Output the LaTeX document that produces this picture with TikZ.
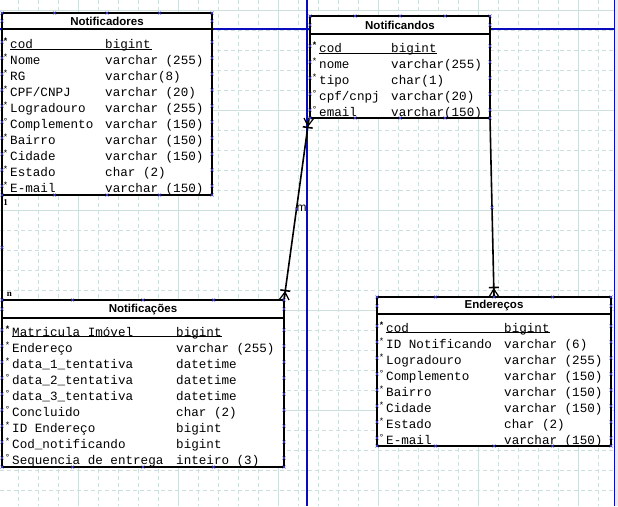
\documentclass[tikz,border=0pt]{standalone}
\usepackage{fontspec}
\setmainfont{Liberation Sans}
\newfontfamily\monof{Liberation Mono}
\newfontfamily\seriff{Liberation Serif}
\usetikzlibrary{calc}
\definecolor{gridc}{RGB}{206,224,222}
\definecolor{pageb}{RGB}{10,10,190}
\definecolor{xmc}{RGB}{70,70,225}
\newcommand\keyB{\bfseries*}
\newcommand\keyS{*}
\newcommand\keyO{°}
\newcommand\tblrows[5]{%
  \foreach \k/\nm/\ty [count=\i from 0] in {#4} {
    \pgfmathsetmacro\yy{#3+16*\i}
    \node[fld] (#5-n\i) at (#1,\yy+4.5) {\nm};
    \node[fld] (#5-t\i) at (#2,\yy+4.5) {\ty};
    \node[keym] (#5-k\i) at (#1-4.5,\yy-2.5) {\k};
  }}
\newcommand\tblmarks[5]{%
  \foreach \f in {0,1,2,3,4} {
    \pgfmathsetmacro\xx{#1+(#2-#1)*\f/4}
    \pic at (\xx,#3) {xm};
    \pic at (\xx,#4) {xm};
  }
  \foreach \yy in {#5} {
    \pic at (#1,\yy) {xm};
    \pic at (#2,\yy) {xm};
  }}
\newcommand\crowft[2]{%
  \draw[conn] ($(#1)!9.5pt!(#2)$) coordinate (cfb)
     ($(cfb)!5pt!90:(#2)$) -- ($(cfb)!5pt!-90:(#2)$);
  \draw[conn, line width=1.2pt] ($(#1)!8pt!(#2)$) coordinate (cfa)
     ($(#1)+(-5,0)$) -- (cfa) -- (#1) (cfa) -- ($(#1)+(5,0)$);
}
\begin{document}
\begin{tikzpicture}[x=1pt,y=-1pt,
  tbl/.style={draw=black, line width=1.6pt, fill=white, inner sep=0pt, outer sep=0pt, anchor=north west},
  ttl/.style={font=\fontsize{11.5}{12}\selectfont\bfseries, inner sep=0pt},
  fld/.style={font=\monof\fontsize{12.6}{14}\selectfont, inner sep=0pt, anchor=base west},
  keym/.style={font=\monof\fontsize{9}{9}\selectfont, inner sep=0pt},
  conn/.style={line width=1.6pt, black},
  lbl/.style={font=\seriff\bfseries\fontsize{9}{9}\selectfont, inner sep=0pt},
  gridd/.style={gridc, line width=0.8pt, dash pattern=on 4pt off 3pt},
  grids/.style={gridc, line width=0.8pt},
  xm/.pic={\draw[xmc, line width=0.5pt] (-1.5,-1.5)--(1.5,1.5) (-1.5,1.5)--(1.5,-1.5);}
]
\useasboundingbox (0,0) rectangle (618,506);
\fill[white] (0,0) rectangle (618,506);
% grid
\foreach \x in {18,38,...,598} \draw[gridd] (\x,0) -- (\x,506);
\foreach \y in {10,30,...,490} \draw[gridd] (0,\y) -- (614,\y);
\foreach \x in {78,178,...,578} \draw[grids] (\x,0) -- (\x,506);
\foreach \y in {10,110,...,410} \draw[grids] (0,\y) -- (614,\y);
\fill[black!7] (615,0) rectangle (618,506);
% page breaks
\draw[pageb, line width=1.3pt] (0,29) -- (614.5,29);
\draw[pageb, line width=1.3pt] (307,0) -- (307,506);
\draw[pageb, line width=1.3pt] (614.5,0) -- (614.5,506);

% tables
\node[tbl, minimum width=210pt, minimum height=182pt] (notificadores) at (2,13) {};
\node[tbl, minimum width=180pt, minimum height=102pt] (notificandos) at (310,16) {};
\node[tbl, minimum width=282pt, minimum height=167pt] (notificacoes) at (2,300) {};
\node[tbl, minimum width=234pt, minimum height=149pt] (enderecos) at (377,297) {};

\draw[line width=1.6pt] (2,29) -- (212,29);
\draw[line width=1.6pt] (310,34) -- (490,34);
\draw[line width=1.6pt] (2,318) -- (284,318);
\draw[line width=1.6pt] (377,314) -- (611,314);

\node[ttl] (t-a) at (107,21) {Notificadores};
\node[ttl] (t-b) at (400,25.5) {Notificandos};
\node[ttl] (t-c) at (143,309.5) {Notificações};
\node[ttl] (t-d) at (494,306) {Endereços};

\tblrows{10}{105}{44}{\keyB/cod/bigint, \keyS/Nome/varchar (255), \keyS/RG/varchar(8),
  \keyS/CPF\slash CNPJ/varchar (20), \keyS/Logradouro/varchar (255), \keyO/Complemento/varchar (150),
  \keyS/Bairro/varchar (150), \keyS/Cidade/varchar (150), \keyS/Estado/char (2), \keyS/E-mail/varchar (150)}{a}
\tblrows{319}{391}{48}{\keyB/cod/bigint, \keyS/nome/varchar(255), \keyS/tipo/char(1),
  \keyO/cpf\slash cnpj/varchar(20), \keyO/email/varchar(150)}{b}
\tblrows{12}{176}{332}{\keyB/Matricula Imóvel/bigint, \keyS/Endereço/varchar (255),
  \keyS/data\_1\_tentativa/datetime, \keyO/data\_2\_tentativa/datetime, \keyO/data\_3\_tentativa/datetime,
  \keyO/Concluido/char (2), \keyS/ID Endereço/bigint, \keyS/Cod\_notificando/bigint,
  \keyO/Sequencia de entrega/inteiro (3)}{c}
\tblrows{386}{504}{328}{\keyB/cod/bigint, \keyS/ID Notificando/varchar (6), \keyS/Logradouro/varchar (255),
  \keyO/Complemento/varchar (150), \keyS/Bairro/varchar (150), \keyS/Cidade/varchar (150),
  \keyS/Estado/char (2), \keyO/E-mail/varchar (150)}{d}

% primary key underlines
\draw[line width=0.8pt] (10,49.5) -- (152,49.5);
\draw[line width=0.8pt] (319,53) -- (437,53);
\draw[line width=0.8pt] (12,336.5) -- (222,336.5);
\draw[line width=0.8pt] (386,332.5) -- (550,332.5);

% connectors
\coordinate (nd-bl) at ($(notificandos.south west)+(-1,0)$);
\draw[conn] (notificadores.south west) -- (notificacoes.north west);
\draw[conn] (nd-bl) -- (notificacoes.north east);
\draw[conn] (notificandos.south east) -- (enderecos.north);
\crowft{notificacoes.north east}{nd-bl}
\crowft{nd-bl}{notificacoes.north east}
\crowft{enderecos.north}{notificandos.south east}

\node[lbl] (l-one) at (5.5,203) {1};
\node[lbl] (l-n) at (9.5,294) {n};
\node[font=\fontsize{12}{12}\selectfont, inner sep=0pt] (l-m) at (301.5,208.5) {m};

% connection point marks
\tblmarks{2}{212}{13}{195}{21,42,58,74,90,106,122,138,154,170,186}
\tblmarks{310}{490}{16}{118}{25,46,62,78,94,110}
\tblmarks{2}{284}{300}{467}{309,330,346,362,378,394,410,426,442,458}
\tblmarks{377}{611}{297}{446}{306,326,342,358,374,390,406,422,438}
\pic at ($(nd-bl)!0.5!(notificacoes.north east)$) {xm};
\pic at ($(notificandos.south east)!0.5!(enderecos.north)$) {xm};
\pic at ($(notificadores.south west)!0.5!(notificacoes.north west)$) {xm};
\end{tikzpicture}
\end{document}
